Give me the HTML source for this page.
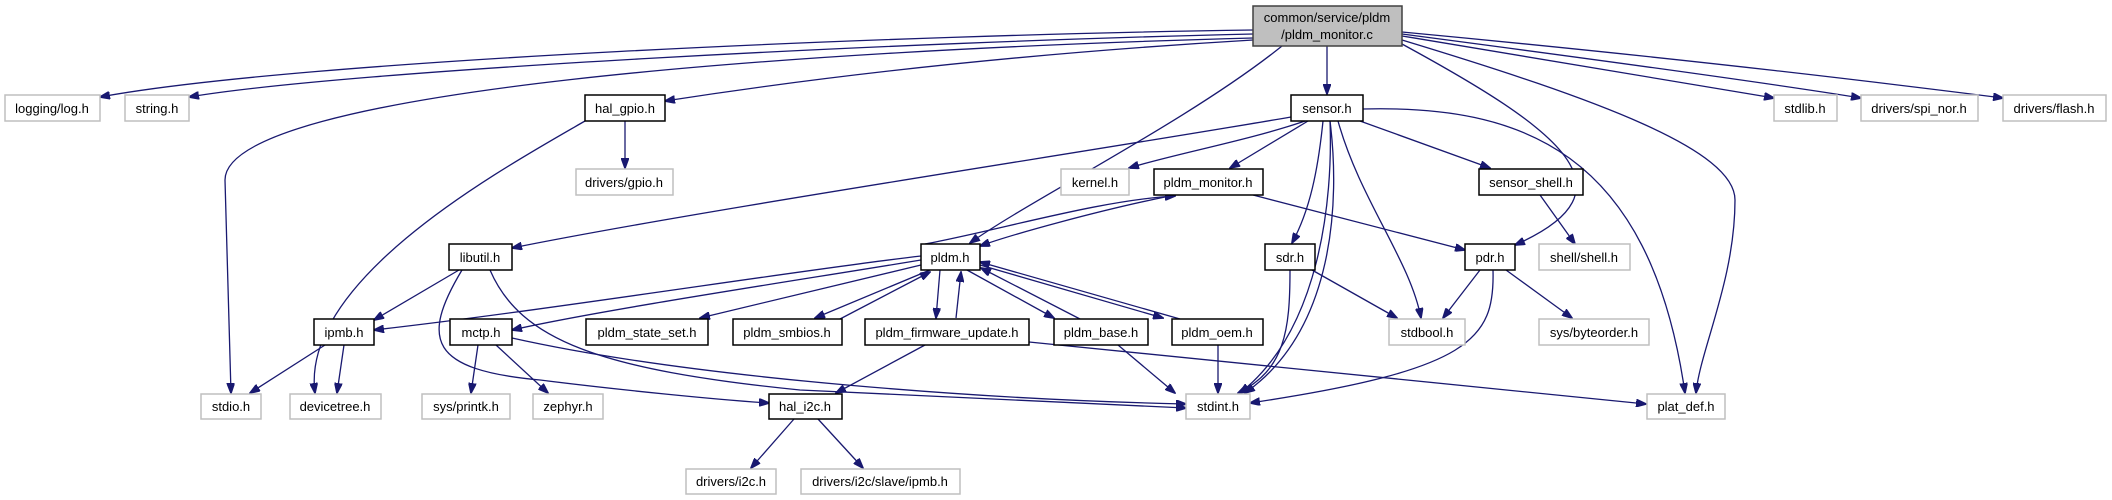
<!DOCTYPE html>
<html><head><meta charset="utf-8"><style>
html,body{margin:0;padding:0;background:#fff;}
svg{display:block;}
text{font-family:"Liberation Sans",Arial,sans-serif;font-size:13px;text-anchor:middle;fill:#000;}
.g{fill:#fff;stroke:#bfbfbf;stroke-width:1.5;}
.b{fill:#fff;stroke:#000;stroke-width:1.5;}
path{fill:none;stroke:#191970;stroke-width:1.3;}
</style></head><body>
<svg width="2112" height="500" viewBox="0 0 2112 500" xmlns="http://www.w3.org/2000/svg">
<defs><marker id="a" markerWidth="11" markerHeight="8" refX="10" refY="4" orient="auto" markerUnits="userSpaceOnUse"><path d="M0,0 L11,4 L0,8 Z" style="fill:#191970;stroke:#191970;stroke-width:1"/></marker></defs>
<g marker-end="url(#a)">
<path d="M1253,30 C900,35 300,60 100,97"/>
<path d="M1253,34 C900,42 350,70 189,97"/>
<path d="M1253,38 C800,50 225,90 225,180 L231,393"/>
<path d="M1253,40 C1000,55 800,80 665,101"/>
<path d="M1327,46 L1327,94"/>
<path d="M1282,46 C1190,120 1030,200 970,243"/>
<path d="M1402,36 C1550,60 1700,85 1774,98"/>
<path d="M1402,34 C1600,60 1780,85 1861,98"/>
<path d="M1402,32 C1700,60 1900,85 2003,98"/>
<path d="M1402,44 C1560,130 1640,190 1515,245"/>
<path d="M1402,40 C1600,100 1735,150 1735,200 C1735,280 1700,350 1696,393"/>
<path d="M625,121 L625,168"/>
<path d="M585,121 C500,170 300,280 315,393"/>
<path d="M1291,117 C1100,150 700,210 512,248"/>
<path d="M1305,121 C1250,140 1170,155 1129,168"/>
<path d="M1308,121 L1230,168"/>
<path d="M1323,121 C1318,170 1310,210 1292,243"/>
<path d="M1330,121 C1340,200 1335,330 1245,393"/>
<path d="M1338,121 C1360,200 1410,260 1421,318"/>
<path d="M1360,121 L1490,168"/>
<path d="M1363,109 C1520,105 1650,150 1685,393"/>
<path d="M1330,121 C1333,200 1320,330 1240,393"/>
<path d="M925,244 C1000,230 1100,200 1175,196"/>
<path d="M1170,196 C1100,210 1010,235 980,246"/>
<path d="M1253,195 L1465,250"/>
<path d="M1540,195 L1575,244"/>
<path d="M1290,270 C1290,330 1285,370 1238,393"/>
<path d="M1312,270 L1397,318"/>
<path d="M1480,270 L1443,318"/>
<path d="M1506,270 L1572,318"/>
<path d="M1493,270 C1495,340 1470,370 1250,403"/>
<path d="M459,270 L374,320"/>
<path d="M462,270 C420,340 430,370 540,380 C620,390 720,400 769,403"/>
<path d="M490,270 C520,340 600,370 800,390 C1000,400 1150,406 1186,408"/>
<path d="M921,256 C800,270 550,310 374,330"/>
<path d="M921,260 C800,280 600,310 512,330"/>
<path d="M921,265 L700,318"/>
<path d="M930,270 L815,318"/>
<path d="M840,319 L930,272"/>
<path d="M940,270 L936,318"/>
<path d="M956,318 L961,272"/>
<path d="M967,270 L1054,318"/>
<path d="M1080,319 L981,268"/>
<path d="M980,265 L1163,318"/>
<path d="M1180,319 L980,262"/>
<path d="M325,345 L250,393"/>
<path d="M344,345 L337,393"/>
<path d="M478,345 L471,393"/>
<path d="M496,345 L548,393"/>
<path d="M512,338 C700,380 1000,400 1186,404"/>
<path d="M925,345 L836,393"/>
<path d="M1029,342 C1300,370 1500,390 1646,404"/>
<path d="M1118,345 L1175,393"/>
<path d="M1218,345 L1218,393"/>
<path d="M794,419 L751,468"/>
<path d="M818,419 L863,468"/>
</g>
<rect x="1253" y="6" width="149" height="40" style="fill:#bfbfbf;stroke:#404040;stroke-width:1.5"/>
<text x="1327" y="22">common/service/pldm</text><text x="1327" y="39">/pldm_monitor.c</text>
<rect class="g" x="5" y="95" width="95" height="26"/><text x="52" y="113">logging/log.h</text>
<rect class="g" x="125" y="95" width="64" height="26"/><text x="157" y="113">string.h</text>
<rect class="b" x="585" y="95" width="80" height="26"/><text x="625" y="113">hal_gpio.h</text>
<rect class="g" x="576" y="169" width="97" height="26"/><text x="624" y="187">drivers/gpio.h</text>
<rect class="b" x="1291" y="95" width="72" height="26"/><text x="1327" y="113">sensor.h</text>
<rect class="g" x="1774" y="95" width="63" height="26"/><text x="1805" y="113">stdlib.h</text>
<rect class="g" x="1861" y="95" width="117" height="26"/><text x="1919" y="113">drivers/spi_nor.h</text>
<rect class="g" x="2003" y="95" width="103" height="26"/><text x="2054" y="113">drivers/flash.h</text>
<rect class="g" x="1061" y="169" width="68" height="26"/><text x="1095" y="187">kernel.h</text>
<rect class="b" x="1154" y="169" width="109" height="26"/><text x="1208" y="187">pldm_monitor.h</text>
<rect class="b" x="1479" y="169" width="104" height="26"/><text x="1531" y="187">sensor_shell.h</text>
<rect class="b" x="1265" y="244" width="50" height="26"/><text x="1290" y="262">sdr.h</text>
<rect class="b" x="1465" y="244" width="50" height="26"/><text x="1490" y="262">pdr.h</text>
<rect class="g" x="1539" y="244" width="91" height="26"/><text x="1584" y="262">shell/shell.h</text>
<rect class="b" x="449" y="244" width="63" height="26"/><text x="480" y="262">libutil.h</text>
<rect class="b" x="921" y="244" width="59" height="26"/><text x="950" y="262">pldm.h</text>
<rect class="b" x="314" y="319" width="60" height="26"/><text x="344" y="337">ipmb.h</text>
<rect class="b" x="450" y="319" width="62" height="26"/><text x="481" y="337">mctp.h</text>
<rect class="b" x="586" y="319" width="122" height="26"/><text x="647" y="337">pldm_state_set.h</text>
<rect class="b" x="733" y="319" width="109" height="26"/><text x="787" y="337">pldm_smbios.h</text>
<rect class="b" x="865" y="319" width="164" height="26"/><text x="947" y="337">pldm_firmware_update.h</text>
<rect class="b" x="1054" y="319" width="94" height="26"/><text x="1101" y="337">pldm_base.h</text>
<rect class="b" x="1172" y="319" width="91" height="26"/><text x="1217" y="337">pldm_oem.h</text>
<rect class="g" x="1389" y="319" width="76" height="26"/><text x="1427" y="337">stdbool.h</text>
<rect class="g" x="1539" y="319" width="110" height="26"/><text x="1594" y="337">sys/byteorder.h</text>
<rect class="g" x="201" y="394" width="60" height="25"/><text x="231" y="411">stdio.h</text>
<rect class="g" x="290" y="394" width="91" height="25"/><text x="335" y="411">devicetree.h</text>
<rect class="g" x="422" y="394" width="88" height="25"/><text x="466" y="411">sys/printk.h</text>
<rect class="g" x="533" y="394" width="70" height="25"/><text x="568" y="411">zephyr.h</text>
<rect class="b" x="769" y="394" width="73" height="25"/><text x="805" y="411">hal_i2c.h</text>
<rect class="g" x="1186" y="394" width="64" height="25"/><text x="1218" y="411">stdint.h</text>
<rect class="g" x="1647" y="394" width="78" height="25"/><text x="1686" y="411">plat_def.h</text>
<rect class="g" x="686" y="469" width="90" height="25"/><text x="731" y="486">drivers/i2c.h</text>
<rect class="g" x="801" y="469" width="159" height="25"/><text x="880" y="486">drivers/i2c/slave/ipmb.h</text>
</svg>
</body></html>
